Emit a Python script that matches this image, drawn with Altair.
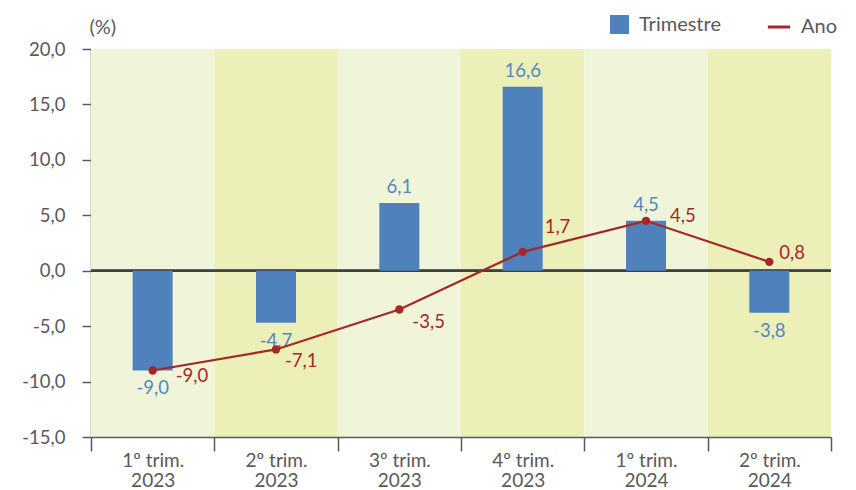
import altair as alt
import pandas as pd

# Quarterly and year-on-year change (%)
quarters = ["1º trim.", "2º trim.", "3º trim.", "4º trim.", "1º trim.", "2º trim."]
years = ["2023", "2023", "2023", "2023", "2024", "2024"]
trimestre = [-9.0, -4.7, 6.1, 16.6, 4.5, -3.8]
ano = [-9.0, -7.1, -3.5, 1.7, 4.5, 0.8]

periods = [f"{q}\n{y}" for q, y in zip(quarters, years)]
df = pd.DataFrame({
    "periodo": periods,
    "trimestre": trimestre,
    "ano": ano,
    "faixa": [i % 2 for i in range(len(periods))],
})

FONT = "Lato"
GREY = "#595959"
BLUE = "#4F81BD"
BLUE_TXT = "#5486C4"
RED = "#A52828"
NUM_SIZE = 18.5
TXT_SIZE = 20

x_enc = alt.X("periodo:N", sort=periods, title=None,
              scale=alt.Scale(paddingInner=0, paddingOuter=0))
y_scale = alt.Scale(domain=[-15, 20], nice=False, zero=False)


def y_enc(field):
    return alt.Y(field, scale=y_scale, title="(%)")


base = alt.Chart(df)

# Alternating column shading
bands = base.mark_rect().encode(
    x=x_enc,
    y=alt.Y(datum=-15, scale=y_scale, title="(%)"),
    y2=alt.Y2(datum=20),
    color=alt.Color("faixa:N", legend=None,
                    scale=alt.Scale(domain=[0, 1], range=["#F0F5D9", "#ECF0B8"])),
)

zero = base.mark_rule(color="#404040", strokeWidth=2).encode(
    y=alt.Y(datum=0, scale=y_scale, title="(%)"))

bars = base.mark_bar(size=40).transform_calculate(serie="'Trimestre'").encode(
    x=x_enc,
    y=y_enc("trimestre:Q"),
    fill=alt.Fill("serie:N", title=None,
                  scale=alt.Scale(domain=["Trimestre"], range=[BLUE]),
                  legend=alt.Legend(orient="none", legendX=518, legendY=-35,
                                    symbolType="square", symbolSize=361,
                                    labelFontSize=TXT_SIZE, labelColor=GREY, labelFont=FONT,
                                    padding=0, labelOffset=9)),
)

bar_pos = base.mark_text(color=BLUE_TXT, fontSize=NUM_SIZE, font=FONT, baseline="middle",
                         dy=-16).transform_filter("datum.trimestre >= 0").encode(
    x=x_enc, y=y_enc("trimestre:Q"),
    text=alt.Text("trimestre:Q", format=".1f"))
bar_neg = base.mark_text(color=BLUE_TXT, fontSize=NUM_SIZE, font=FONT, baseline="middle",
                         dy=18).transform_filter("datum.trimestre < 0").encode(
    x=x_enc, y=y_enc("trimestre:Q"),
    text=alt.Text("trimestre:Q", format=".1f"))

line = base.mark_line(strokeWidth=2.2).transform_calculate(serie2="'Ano'").encode(
    x=x_enc,
    y=y_enc("ano:Q"),
    stroke=alt.Stroke("serie2:N", title=None,
                      scale=alt.Scale(domain=["Ano"], range=[RED]),
                      legend=alt.Legend(orient="none", legendX=675, legendY=-35,
                                        symbolType="stroke", symbolSize=500,
                                        symbolStrokeWidth=3,
                                        labelFontSize=TXT_SIZE, labelColor=GREY, labelFont=FONT,
                                        padding=0, labelOffset=9)),
)

points = base.mark_circle(color=RED, opacity=1, size=70).encode(
    x=x_enc, y=y_enc("ano:Q"))

# Year-on-year value labels, each nudged off its point
offsets = [(23, 6), (9, 12), (13, 12), (22, -25), (24, -5), (10, -9)]
line_labels = []
for p, (dx, dy) in zip(periods, offsets):
    line_labels.append(
        base.mark_text(color=RED, fontSize=NUM_SIZE, font=FONT, align="left",
                       baseline="middle", dx=dx, dy=dy)
        .transform_filter(alt.datum.periodo == p)
        .encode(x=x_enc, y=y_enc("ano:Q"),
                text=alt.Text("ano:Q", format=".1f"))
    )

chart = alt.layer(bands, zero, bars, bar_pos, bar_neg, line, points, *line_labels).resolve_scale(
    color="independent"
).properties(
    width=740, height=388,
    autosize=alt.AutoSizeParams(type="none"),
    padding={"left": 91, "top": 49, "right": 25, "bottom": 53},
    background="white",
).configure_view(stroke=None).configure_axisY(
    values=[-15, -10, -5, 0, 5, 10, 15, 20], format=".1f", grid=False,
    domainColor=GREY, domainWidth=1.5, tickColor=GREY, tickWidth=1.5, tickSize=9,
    labelFontSize=NUM_SIZE, labelColor=GREY, labelFont=FONT, labelPadding=17,
    titleAngle=0, titleX=-2, titleY=-22, titleAlign="left", titleBaseline="middle",
    titleFontSize=20, titleFontWeight="normal", titleColor=GREY, titleFont=FONT,
).configure_axisX(
    labelAngle=0, labelExpr="split(datum.label, '\\n')", labelLineHeight=20,
    labelFontSize=19, labelColor=GREY, labelFont=FONT, labelPadding=0,
    tickBand="extent", tickSize=14, tickColor=GREY, tickWidth=1.5,
    domainColor=GREY, domainWidth=1.5, grid=False, labelBaseline="top",
)

chart.save("out.html", embed_options={
    "renderer": "svg", "actions": False,
    "formatLocale": {"decimal": ",", "thousands": ".", "grouping": [3],
                     "currency": ["", " €"], "minus": "-"},
})
